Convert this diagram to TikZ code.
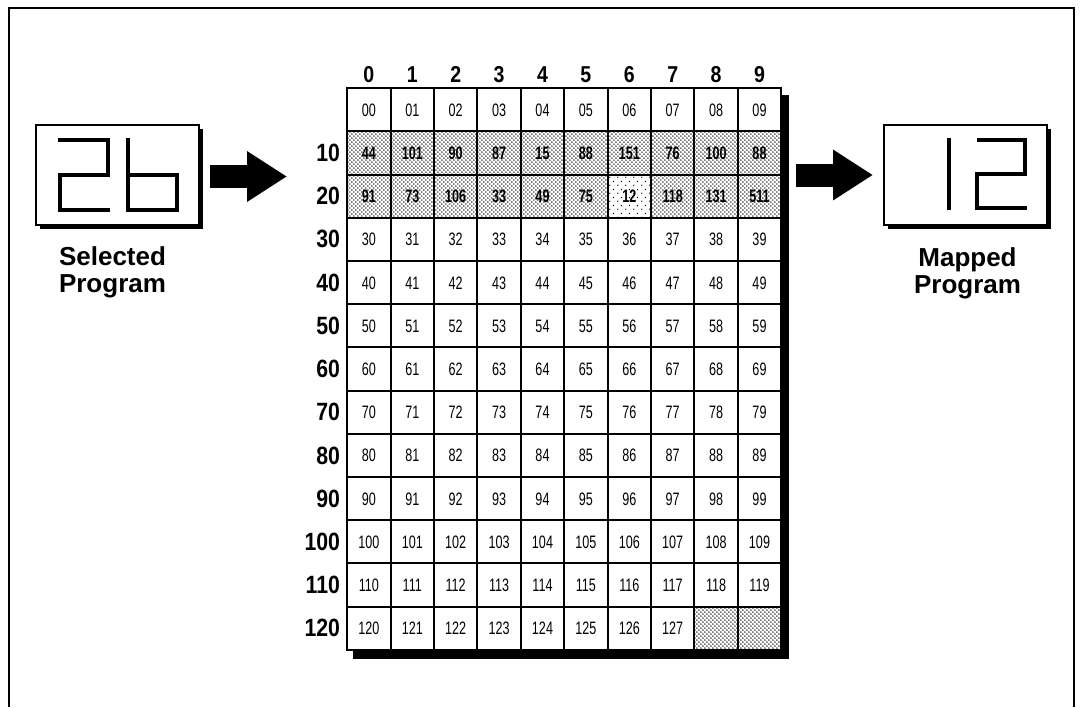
\documentclass[tikz,border=0pt]{standalone}
\usepackage{fontspec}
\setmainfont{Liberation Sans}
\newfontfamily\cellfont{Liberation Sans}[FakeStretch=0.7]
\newfontfamily\labelfont{Liberation Sans}[FakeStretch=0.85]
\usetikzlibrary{positioning}
\usetikzlibrary{matrix}
\usetikzlibrary{patterns}
\usetikzlibrary{backgrounds}
\usetikzlibrary{shadows}
\usetikzlibrary{arrows.meta}

\pgfdeclarepatternformonly{grain}{\pgfqpoint{0pt}{0pt}}{\pgfqpoint{4.4pt}{4.4pt}}{\pgfqpoint{4.4pt}{4.4pt}}{
  \pgfpathcircle{\pgfqpoint{1.1pt}{1.1pt}}{0.85pt}
  \pgfpathcircle{\pgfqpoint{3.3pt}{3.3pt}}{0.85pt}
  \pgfusepath{fill}
}
\pgfdeclarepatternformonly{sparsegrain}{\pgfqpoint{0pt}{0pt}}{\pgfqpoint{8pt}{8pt}}{\pgfqpoint{8pt}{8pt}}{
  \pgfpathcircle{\pgfqpoint{2pt}{2pt}}{0.8pt}
  \pgfpathcircle{\pgfqpoint{6pt}{6pt}}{0.8pt}
  \pgfusepath{fill}
}

\tikzset{
  cell/.style={draw, line width=2pt, fill=white, minimum width=43.4pt, minimum height=43.2pt,
    inner sep=0pt, anchor=center, text height=13pt, text depth=0pt,
    font=\cellfont\fontsize{18}{18}\selectfont},
  hatched/.style={preaction={fill=white}, pattern=grain,
    font=\cellfont\bfseries\fontsize{18}{18}\selectfont},
  picked/.style={preaction={fill=white}, pattern=sparsegrain,
    font=\cellfont\bfseries\fontsize{18}{18}\selectfont},
  collabel/.style={inner sep=0pt, text height=16.5pt, text depth=0pt,
    font=\labelfont\bfseries\fontsize{23}{23}\selectfont},
  rowlabel/.style={inner sep=0pt, font=\labelfont\bfseries\fontsize{25}{25}\selectfont},
  display/.style={draw, line width=2pt, fill=white, minimum width=163pt, minimum height=100pt,
    drop shadow={shadow xshift=4pt, shadow yshift=-4pt, opacity=1, fill=black}},
  caption/.style={align=center, inner sep=0pt, font=\bfseries\fontsize{26}{27}\selectfont},
  bigarrow/.style={line width=23pt, -{Triangle[length=40pt, width=48pt]}},
  segment/.style={line width=4.5pt}
}

\begin{document}
\begin{tikzpicture}[x=1pt, y=-1pt]
\useasboundingbox (0,0) rectangle (1084,707);
\draw[line width=1.5pt] (9,707) -- (9,8) -- (1074,8) -- (1074,707);

% program table
\matrix (m) [matrix of nodes, nodes in empty cells, nodes={cell}, row sep=-2pt, column sep=-2pt,
  inner sep=0pt, anchor=north west] at (346,87)
  {
    00 & 01 & 02 & 03 & 04 & 05 & 06 & 07 & 08 & 09 \\
    |[hatched]| 44 & |[hatched]| 101 & |[hatched]| 90 & |[hatched]| 87 & |[hatched]| 15 &
    |[hatched]| 88 & |[hatched]| 151 & |[hatched]| 76 & |[hatched]| 100 & |[hatched]| 88 \\
    |[hatched]| 91 & |[hatched]| 73 & |[hatched]| 106 & |[hatched]| 33 & |[hatched]| 49 &
    |[hatched]| 75 & |[picked]| 12 & |[hatched]| 118 & |[hatched]| 131 & |[hatched]| 511 \\
    30 & 31 & 32 & 33 & 34 & 35 & 36 & 37 & 38 & 39 \\
    40 & 41 & 42 & 43 & 44 & 45 & 46 & 47 & 48 & 49 \\
    50 & 51 & 52 & 53 & 54 & 55 & 56 & 57 & 58 & 59 \\
    60 & 61 & 62 & 63 & 64 & 65 & 66 & 67 & 68 & 69 \\
    70 & 71 & 72 & 73 & 74 & 75 & 76 & 77 & 78 & 79 \\
    80 & 81 & 82 & 83 & 84 & 85 & 86 & 87 & 88 & 89 \\
    90 & 91 & 92 & 93 & 94 & 95 & 96 & 97 & 98 & 99 \\
    100 & 101 & 102 & 103 & 104 & 105 & 106 & 107 & 108 & 109 \\
    110 & 111 & 112 & 113 & 114 & 115 & 116 & 117 & 118 & 119 \\
    120 & 121 & 122 & 123 & 124 & 125 & 126 & 127 & |[hatched]| & |[hatched]| \\
  };
\begin{scope}[on background layer]
  \fill ([shift={(7pt,-8pt)}]m.north west) rectangle ([shift={(7pt,-8pt)}]m.south east);
\end{scope}

\foreach \d [count=\c] in {0,...,9}
  \node[collabel, above=5pt of m-1-\c] (col\d) {\d};
\foreach \lab [count=\r from 2] in {10,20,...,120}
  \node[rowlabel, left=6pt of m-\r-1] (row\lab) {\lab};

% displays
\node[display] (sel) at (117.5,174.5) {};
\node[display] (map) at (965.5,175) {};
\node[caption, below=21pt of sel, xshift=-5pt] (selcap) {Selected\\Program};
\node[caption, below=21pt of map, xshift=2pt] (mapcap) {Mapped\\Program};

\draw[segment] (58,140) -- (108,140) -- (108,175) -- (60,175) -- (60,210) -- (110,210);
\draw[segment] (128,138) -- (128,210) -- (177,210) -- (177,175) -- (128,175);
\draw[segment] (949,138) -- (949,210);
\draw[segment] (977,140) -- (1025,140) -- (1025,174) -- (977,174) -- (977,208) -- (1027,208);

\draw[bigarrow] ([xshift=10pt,yshift=-2pt]sel.east) -- ([xshift=87pt,yshift=-2pt]sel.east);
\draw[bigarrow] ([xshift=-87pt]map.west) -- ([xshift=-10pt]map.west);
\end{tikzpicture}
\end{document}
